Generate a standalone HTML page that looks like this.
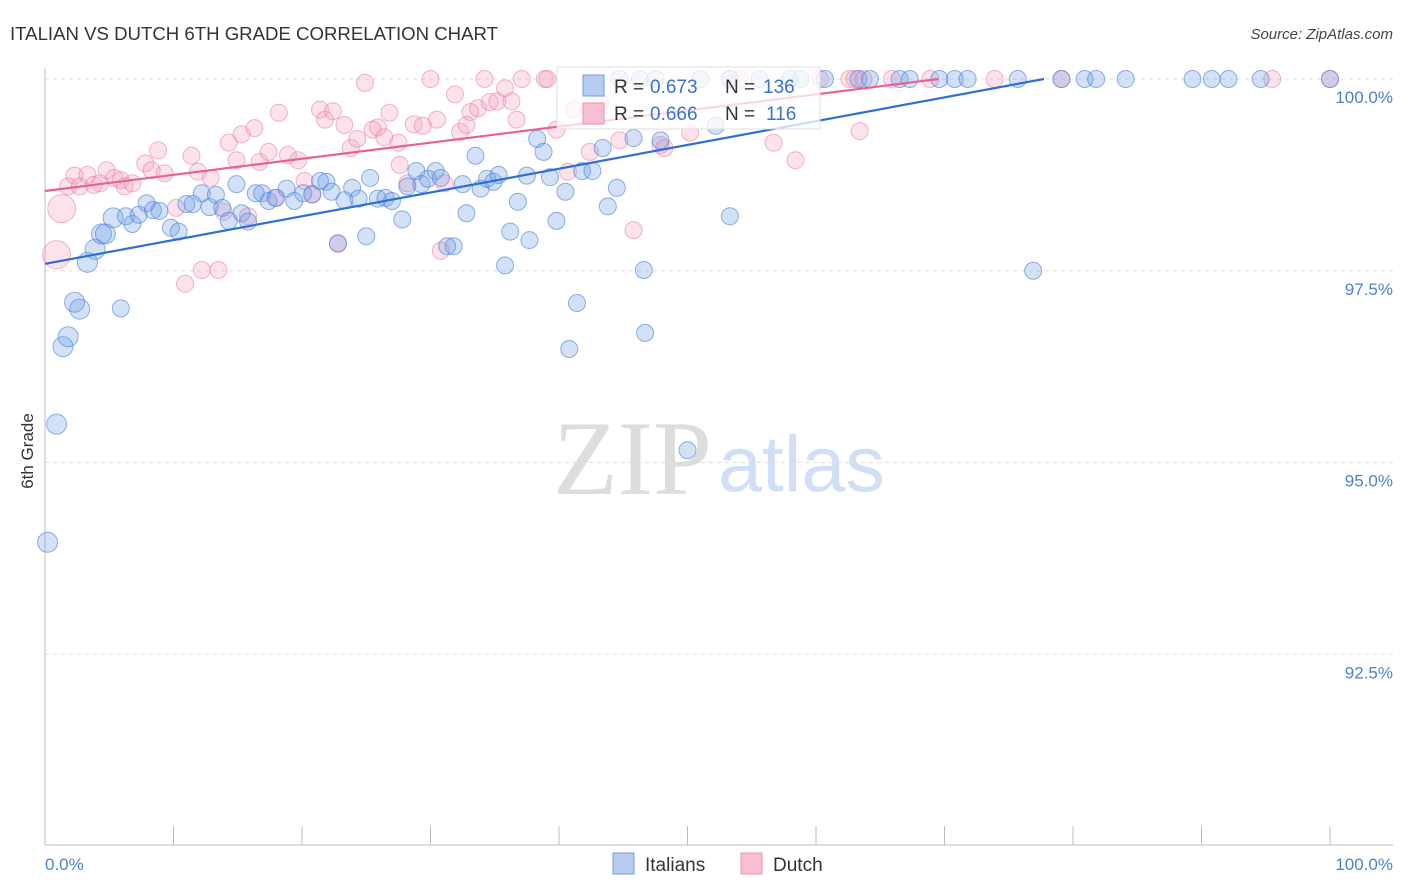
<!DOCTYPE html>
<html><head><meta charset="utf-8">
<style>
body{margin:0;background:#fff;width:1406px;height:892px;overflow:hidden;font-family:"Liberation Sans",sans-serif}
svg{position:absolute;left:0;top:0}
</style></head>
<body>
<svg id="chart" width="1406" height="892">
<text x="10" y="40" font-size="18" fill="#333" textLength="488" lengthAdjust="spacingAndGlyphs">ITALIAN VS DUTCH 6TH GRADE CORRELATION CHART</text>
<text x="1393" y="39" font-size="15" fill="#444" font-style="italic" text-anchor="end">Source: ZipAtlas.com</text>
<g>
<text x="553" y="494" font-size="106" fill="#ddd" font-family="Liberation Serif,serif">ZIP</text>
<text x="718" y="491" font-size="79" fill="#d0dff5">atlas</text>
</g>
<g id="grid"></g>
<g id="axes"></g>
<g id="pts"></g>
<g id="trends"></g>
<text x="37" y="455" font-size="17" fill="#333" text-anchor="middle" transform="rotate(-90 33 455)">6th Grade</text>
<g>
<rect x="557" y="67" width="263" height="62" fill="rgba(255,255,255,0.75)" stroke="#ddd"/>
<rect x="583" y="75" width="21" height="21" fill="#b5cdf2" stroke="#6f9be3"/>
<text x="614" y="93" font-size="19" fill="#333">R =</text>
<text x="650" y="93" font-size="19" fill="#3b6fd4">0.673</text>
<text x="725" y="93" font-size="19" fill="#333">N =</text>
<text x="763" y="93" font-size="19" fill="#3b6fd4">136</text>
<rect x="583" y="103" width="21" height="21" fill="#f7bfd0" stroke="#ee93b0"/>
<text x="614" y="120" font-size="19" fill="#333">R =</text>
<text x="650" y="120" font-size="19" fill="#3b6fd4">0.666</text>
<text x="725" y="120" font-size="19" fill="#333">N =</text>
<text x="766" y="120" font-size="19" fill="#3b6fd4">116</text>
</g>
<g>
<rect x="613" y="853" width="21" height="21" fill="#b5cdf2" stroke="#6f9be3"/>
<text x="645" y="871" font-size="19" fill="#333">Italians</text>
<rect x="741" y="853" width="21" height="21" fill="#f7bfd0" stroke="#ee93b0"/>
<text x="773" y="871" font-size="19" fill="#333">Dutch</text>
</g>
</svg>
<script>
const yTicks=[100,97.5,95,92.5];
const yTickLabels=["100.0%","97.5%","95.0%","92.5%"];
const xTickVals=[0,10,20,30,40,50,60,70,80,90,100];
const blueX=[0.2,0.9,1.4,1.8,2.3,2.7,3.3,3.9,4.4,4.7,5.3,5.9,6.3,6.8,7.3,7.9,8.4,8.9,9.8,10.4,11.0,11.5,12.2,12.8,13.3,13.8,14.3,14.9,15.3,15.8,16.4,16.9,17.4,18.0,18.8,19.4,20.1,20.8,21.4,21.9,22.3,22.8,23.3,23.9,24.4,25.0,25.3,25.9,26.5,27.0,27.8,28.2,28.9,29.3,29.8,30.4,30.8,31.3,31.8,32.5,32.8,33.5,33.9,34.4,34.9,35.3,35.8,36.2,36.8,37.5,37.7,38.3,38.8,39.3,39.8,40.5,40.8,41.4,41.8,42.6,43.4,43.8,44.5,45.8,46.6,46.7,47.9,50.0,52.2,53.3,76.9,
42.6,44.7,46.3,47.5,51.0,53.3,55.6,58.0,58.8,60.7,63.3,64.2,66.5,67.3,69.6,70.8,71.8,75.7,79.1,80.9,81.8,84.1,89.3,90.8,92.1,94.6,100];
const blueY=[93.96,95.50,96.51,96.64,97.09,97.00,97.61,97.78,97.98,97.98,98.19,97.01,98.21,98.11,98.23,98.38,98.29,98.28,98.06,98.01,98.37,98.37,98.51,98.33,98.49,98.32,98.15,98.63,98.25,98.14,98.51,98.51,98.41,98.45,98.57,98.41,98.51,98.50,98.67,98.66,98.53,97.86,98.42,98.58,98.44,97.95,98.71,98.44,98.45,98.41,98.17,98.60,98.80,98.63,98.70,98.80,98.71,97.82,97.82,98.63,98.25,99.00,98.57,98.70,98.66,98.75,97.57,98.01,98.40,98.74,97.90,99.22,99.05,98.72,98.15,98.53,96.48,97.08,98.80,98.80,99.10,98.34,98.58,99.23,97.51,96.69,99.20,95.16,99.39,98.21,97.50,
99.93,100,100,100,100,100,100,100,100,100,100,100,100,100,100,100,100,100,100,100,100,100,100,100,100,100,100];
const pinkX=[0.9,1.3,1.8,2.3,2.7,3.3,3.8,4.3,4.8,5.4,5.9,6.2,6.8,7.8,8.3,8.8,9.3,10.2,10.9,11.4,11.9,12.2,12.9,13.5,13.9,14.3,14.9,15.3,15.8,16.3,16.7,17.4,17.9,18.2,18.9,19.7,20.2,20.8,21.4,21.8,22.4,22.8,23.3,23.8,24.3,24.9,25.5,25.9,26.4,26.8,27.5,27.6,28.2,28.7,29.4,30.0,30.5,30.8,31.1,31.9,32.3,32.8,33.1,33.7,34.2,34.6,35.2,35.8,36.3,36.7,37.1,38.9,39.1,39.8,40.7,41.2,42.4,43.2,44.7,45.8,47.9,48.2,50.2,53.3,54.1,56.7,58.4,60.3,62.6,63.0,63.4,63.7,65.9,68.9,73.9,79.1,95.5,100];
const pinkY=[97.71,98.31,98.60,98.74,98.60,98.75,98.62,98.64,98.81,98.71,98.68,98.60,98.64,98.90,98.81,99.07,98.77,98.32,97.33,99.00,98.79,97.51,98.71,97.51,98.27,99.17,98.94,99.28,98.21,99.36,98.92,99.05,98.45,99.56,99.01,98.94,98.67,98.49,99.60,99.47,99.58,97.85,99.40,99.10,99.22,99.95,99.34,99.37,99.24,99.56,99.17,98.88,98.64,99.41,99.39,100,99.47,97.76,98.64,99.80,99.31,99.40,99.57,99.62,100,99.70,99.71,99.88,99.71,99.47,100,100,100,99.34,98.79,99.60,99.05,99.69,99.20,98.03,99.14,99.10,99.30,100,100,99.17,98.94,100,100,100,99.32,100,100,100,100,100,100,100];
const blueTrend=[97.59,0.031];
const pinkTrend=[98.54,0.021];

const X0=45,XW=12.85,Y100=79,YPX=76.7;
const sx=v=>X0+v*XW, sy=v=>Y100+(100-v)*YPX;
const NS="http://www.w3.org/2000/svg";
function mk(tag,attrs,parent){const e=document.createElementNS(NS,tag);for(const k in attrs)e.setAttribute(k,attrs[k]);parent.appendChild(e);return e;}
const grid=document.getElementById('grid'),axes=document.getElementById('axes'),pts=document.getElementById('pts'),tr=document.getElementById('trends');
yTicks.forEach((t,i)=>{
  const l=mk('line',{x1:45,x2:1393,y1:sy(t),y2:sy(t),stroke:'#ddd','stroke-dasharray':'4,4'},grid);
  
  
  const tx=mk('text',{x:1393,y:sy(t)+24,'font-size':17,fill:'#4a7fd8','text-anchor':'end'},axes);
  tx.textContent=yTickLabels[i];
  
  
});
let a=mk('line',{x1:45,x2:45,y1:68,y2:845,stroke:'#bbb'},axes);


a=mk('line',{x1:45,x2:1393,y1:845,y2:845,stroke:'#bbb'},axes);


xTickVals.forEach(v=>{
  const t=mk('line',{x1:sx(v),x2:sx(v),y1:826,y2:845,stroke:'#bbb'},axes);
  
  
});
let xl=mk('text',{x:45,y:870,'font-size':17,fill:'#4a7fd8'},axes);xl.textContent='0.0%';


xl=mk('text',{x:1393,y:870,'font-size':17,fill:'#4a7fd8','text-anchor':'end'},axes);xl.textContent='100.0%';


function series(X,Y,fill,stroke,name,bigN,bigR){
  X.forEach((x,i)=>{
    const r=i<bigN?bigR:8.5;
    const c=mk('circle',{cx:sx(x),cy:sy(Y[i]),r:r,fill:fill,stroke:stroke,'stroke-width':1},pts);
    
    
  });
}
series(pinkX,pinkY,'rgba(244,160,188,0.3)','rgba(232,120,160,0.55)','dutch-point',2,14);
series(blueX,blueY,'rgba(110,155,230,0.3)','rgba(70,125,220,0.6)','italians-point',11,10);
function trend(p,col,name){
  const xEnd=Math.min(100,(100-p[0])/p[1]);
  const l=mk('line',{x1:sx(0),y1:sy(p[0]),x2:sx(xEnd),y2:sy(p[0]+p[1]*xEnd),stroke:col,'stroke-width':2.2},tr);
  
  
}
trend(pinkTrend,'#e8628e','dutch-trend-line');
trend(blueTrend,'#2d6fd6','italians-trend-line');
</script>
</body></html>
